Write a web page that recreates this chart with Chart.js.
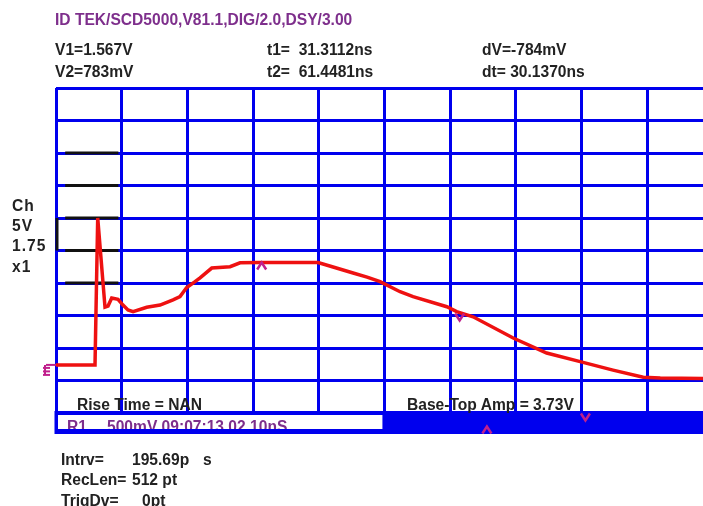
<!DOCTYPE html>
<html><head><meta charset="utf-8">
<script src="https://cdn.jsdelivr.net/npm/chart.js@4/dist/chart.umd.min.js"></script>
<style>
html,body{margin:0;padding:0;background:#fff;width:703px;height:506px;overflow:hidden;}
#wrap{position:relative;width:703px;height:506px;}
canvas{position:absolute;left:0;top:0;}
.t{position:absolute;font-family:"Liberation Sans",Arial,sans-serif;font-weight:bold;font-size:15.6px;line-height:15px;color:#222;white-space:pre;}
.p{color:#7e2f8c;}
.ls{letter-spacing:1px;}
#r1box{position:absolute;left:59px;top:415px;width:323px;height:14px;overflow:hidden;}
</style></head><body>
<div id="wrap">
<canvas id="c" width="703" height="506"></canvas>
<div class="t p" style="left:55px;top:12px;">ID TEK/SCD5000,V81.1,DIG/2.0,DSY/3.00</div>
<div class="t" style="left:55px;top:42px;">V1=1.567V</div>
<div class="t" style="left:55px;top:64px;">V2=783mV</div>
<div class="t" style="left:267px;top:42px;">t1=  31.3112ns</div>
<div class="t" style="left:267px;top:64px;">t2=  61.4481ns</div>
<div class="t" style="left:482px;top:42px;">dV=-784mV</div>
<div class="t" style="left:482px;top:64px;">dt= 30.1370ns</div>
<div class="t ls" style="left:12px;top:198px;">Ch</div>
<div class="t ls" style="left:12px;top:218px;">5V</div>
<div class="t ls" style="left:12px;top:238px;">1.75</div>
<div class="t ls" style="left:12px;top:259px;">x1</div>
<div class="t" style="left:77px;top:397px;">Rise Time = NAN</div>
<div class="t" style="left:407px;top:397px;">Base-Top Amp = 3.73V</div>
<div id="r1box"><div class="t p" style="left:8px;top:4px;">R1</div><div class="t p" style="left:48px;top:4px;">500mV 09:07:13.02 10nS</div></div>
<div class="t" style="left:61px;top:452px;">Intrv=</div>
<div class="t" style="left:132px;top:452px;">195.69p</div>
<div class="t" style="left:203px;top:452px;">s</div>
<div class="t" style="left:61px;top:472px;">RecLen=</div>
<div class="t" style="left:132px;top:472px;">512 pt</div>
<div class="t" style="left:61px;top:493px;">TrigDv=</div>
<div class="t" style="left:142px;top:493px;">0pt</div>
</div>
<script>
// Waveform (time in ns, amplitude in V)
const TIME_NS = [0, 5.94, 6.35, 7.46, 7.92, 8.48, 9.44, 10.2, 10.96, 11.73, 13.81, 15.84, 17.82, 18.88, 19.9, 21.17, 21.93, 23.71, 26.5, 28.02, 31.06, 39.9, 42.18, 45.23, 47.36, 49.34, 52.38, 54.36, 59.5, 61.0, 63.5, 69.6, 74.7, 79.8, 84.8, 89.4, 92.0, 98.5];
const VOLTS   = [0, 0, 2.26, 0.89, 0.906, 1.03, 1.01, 0.92, 0.845, 0.82, 0.886, 0.92, 1.0, 1.05, 1.19, 1.28, 1.34, 1.49, 1.51, 1.57, 1.575, 1.575, 1.506, 1.414, 1.35, 1.28, 1.126, 1.05, 0.895, 0.82, 0.74, 0.414, 0.183, 0.05, -0.08, -0.19, -0.2, -0.21];
// Cursors
const CURSOR_T = [31.3112, 61.4481];
const CURSOR_V = [1.567, 0.783];
const CURSOR_GLYPH = ['^', 'v'];
// Markers in bottom strip (time, ns)
const STRIP_MARK_T = [65.6, 80.6];
const STRIP_GLYPH = ['^', 'v'];
// Graticule
const NS_PER_DIV = 10;
const V_PER_DIV = 0.5;
const GND_DIV = 1.48;
const X_DIVS = [0,1,2,3,4,5,6,7,8,9];
const Y_DIVS = [0,1,2,3,4,5,6,7,8,9,10];
const MARK_DIVS = [4,5,6,7,8];
const X_MAX_NS = 98.5;

const divToV = k => (k - GND_DIV) * V_PER_DIV;

const BLUE = '#0000ee';
const MAG = '#c0208c';

function glyph(ctx, x, y, kind, w, h) {
  ctx.beginPath();
  if (kind === '^') { ctx.moveTo(x - w/2, y + h/2); ctx.lineTo(x, y - h/2); ctx.lineTo(x + w/2, y + h/2); }
  else { ctx.moveTo(x - w/2, y - h/2); ctx.lineTo(x, y + h/2); ctx.lineTo(x + w/2, y - h/2); }
  ctx.stroke();
}

const scopePlugin = {
  id: 'scope',
  beforeDatasetsDraw(chart) {
    const ctx = chart.ctx, xs = chart.scales.x, ys = chart.scales.y;
    ctx.save();
    ctx.strokeStyle = '#111';
    ctx.lineWidth = 3;
    MARK_DIVS.forEach(k => {
      const y = ys.getPixelForValue(divToV(k));
      ctx.beginPath();
      ctx.moveTo(xs.getPixelForValue(0.14 * NS_PER_DIV), y);
      ctx.lineTo(xs.getPixelForValue(0.95 * NS_PER_DIV), y);
      ctx.stroke();
    });
    ctx.beginPath();
    ctx.moveTo(xs.getPixelForValue(0) + 1, ys.getPixelForValue(divToV(6)));
    ctx.lineTo(xs.getPixelForValue(0) + 1, ys.getPixelForValue(divToV(5)));
    ctx.stroke();
    ctx.restore();
  },
  afterDatasetsDraw(chart) {
    const ctx = chart.ctx, xs = chart.scales.x, ys = chart.scales.y;
    const a = chart.chartArea;
    ctx.save();
    // bottom strip
    const top = a.bottom - 2, bot = a.bottom + 21;
    ctx.fillStyle = BLUE;
    ctx.fillRect(a.left - 1.5, top, a.right - a.left + 1.5, bot - top);
    ctx.fillStyle = '#fff';
    const mid = xs.getPixelForValue(5 * NS_PER_DIV);
    ctx.fillRect(a.left + 2, a.bottom + 2, mid - 2 - (a.left + 2), 14);
    // ground marker
    const gy = ys.getPixelForValue(0);
    ctx.strokeStyle = MAG; ctx.lineWidth = 2;
    ctx.beginPath(); ctx.moveTo(a.left, gy); ctx.lineTo(a.left - 10, gy); ctx.stroke();
    ctx.beginPath(); ctx.moveTo(a.left - 11, gy); ctx.lineTo(a.left - 11, gy + 10); ctx.stroke();
    [gy + 3, gy + 6.5, gy + 10].forEach(yy => { ctx.beginPath(); ctx.moveTo(a.left - 13, yy); ctx.lineTo(a.left - 6, yy); ctx.stroke(); });
    // cursor glyphs
    ctx.strokeStyle = MAG; ctx.lineWidth = 2.5; ctx.lineJoin = 'miter';
    CURSOR_T.forEach((t, i) => glyph(ctx, xs.getPixelForValue(t), ys.getPixelForValue(CURSOR_V[i]) + 3, CURSOR_GLYPH[i], 9, 7));
    ctx.beginPath(); ctx.rect(0, top, chart.width, bot - top); ctx.clip();
    STRIP_MARK_T.forEach((t, i) => glyph(ctx, xs.getPixelForValue(t), STRIP_GLYPH[i] === '^' ? bot - 4 : top + 6, STRIP_GLYPH[i], 9, 7));
    ctx.restore();
  }
};

new Chart(document.getElementById('c'), {
  type: 'line',
  data: {
    datasets: [{
      data: TIME_NS.map((t, i) => ({x: t, y: VOLTS[i]})),
      borderColor: '#ee1111',
      borderWidth: 3.5,
      pointRadius: 0,
      tension: 0,
      fill: false
    }]
  },
  options: {
    responsive: false,
    animation: false,
    events: [],
    layout: {padding: {left: 56, top: 88, right: 0, bottom: 93}},
    plugins: {legend: {display: false}, tooltip: {enabled: false}},
    scales: {
      x: {
        type: 'linear', min: 0, max: X_MAX_NS,
        afterBuildTicks: s => { s.ticks = X_DIVS.map(k => ({value: k * NS_PER_DIV})); },
        ticks: {display: false},
        grid: {color: BLUE, lineWidth: 3, drawTicks: false},
        border: {display: false}
      },
      y: {
        type: 'linear', min: divToV(0), max: divToV(10),
        afterBuildTicks: s => { s.ticks = Y_DIVS.map(k => ({value: divToV(k)})); },
        ticks: {display: false},
        grid: {color: BLUE, lineWidth: 3, drawTicks: false},
        border: {display: false}
      }
    }
  },
  plugins: [scopePlugin]
});
</script>
</body></html>
